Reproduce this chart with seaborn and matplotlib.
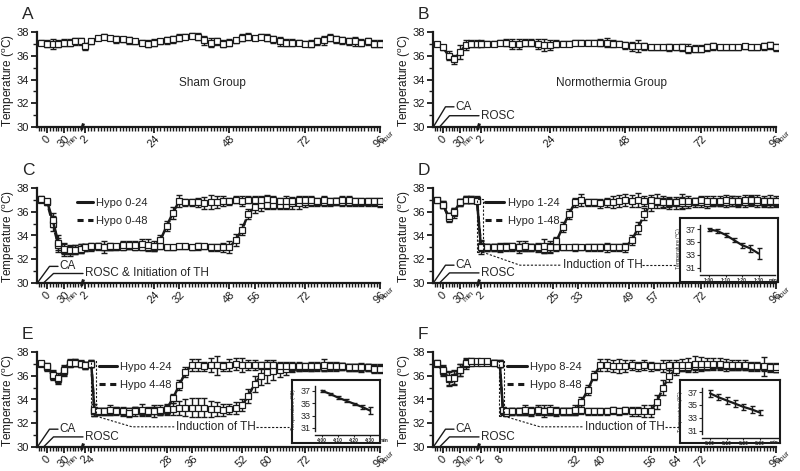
import numpy as np
import pandas as pd
import matplotlib
matplotlib.use("Agg")
import matplotlib.pyplot as plt
import seaborn as sns
from matplotlib.lines import Line2D
from matplotlib.ticker import FixedLocator

sns.set_theme(style="ticks")
plt.rcParams['font.family'] = ['Liberation Sans', 'DejaVu Sans']
plt.rcParams['mathtext.fontset'] = 'custom'
plt.rcParams['mathtext.rm'] = 'Liberation Sans'

# ---------------- data ----------------
EARLY_MIN = [-10, 0, 10, 20, 30, 40, 50, 60]
HOURS = list(range(2, 97, 2))
HOURS_E = [2, 4, 5] + list(range(6, 97, 2))
HOURS_F = [2, 4, 6, 8, 9] + list(range(10, 97, 2))

A_MEAN = [37.1, 37.0, 37.0, 37.0, 37.1, 37.1, 37.2, 37.2,
          36.8, 37.2, 37.5, 37.6, 37.5, 37.4, 37.4, 37.3, 37.2, 37.1, 37.0, 37.1,
          37.2, 37.3, 37.4, 37.5, 37.6, 37.7, 37.6, 37.3, 37.1, 37.2, 37.0, 37.1,
          37.3, 37.5, 37.6, 37.5, 37.6, 37.5, 37.4, 37.2, 37.1, 37.1, 37.1, 37.0,
          37.0, 37.2, 37.3, 37.5, 37.4, 37.3, 37.2, 37.2, 37.1, 37.2, 37.0, 37.0]
A_SEM = [0.2, 0.3, 0.4, 0.3, 0.3, 0.3, 0.3, 0.3,
         0.3, 0.2, 0.2, 0.2, 0.2, 0.3, 0.2, 0.3, 0.2, 0.2, 0.3, 0.3,
         0.2, 0.3, 0.3, 0.3, 0.2, 0.2, 0.3, 0.4, 0.4, 0.3, 0.3, 0.3,
         0.2, 0.3, 0.3, 0.2, 0.2, 0.3, 0.3, 0.4, 0.3, 0.3, 0.2, 0.2,
         0.3, 0.3, 0.4, 0.3, 0.3, 0.3, 0.3, 0.4, 0.3, 0.3, 0.3, 0.3]

B_MEAN = [37.0, 36.7, 36.0, 35.7, 36.3, 36.9, 37.0, 37.0,
          37.0, 37.0, 37.0, 37.1, 37.1, 37.0, 37.0, 37.1, 37.1, 37.0, 36.9, 36.9,
          37.0, 37.0, 37.0, 37.1, 37.1, 37.1, 37.1, 37.1, 37.1, 37.0, 37.0, 36.9,
          36.8, 36.8, 36.8, 36.7, 36.7, 36.7, 36.7, 36.7, 36.7, 36.6, 36.6, 36.6,
          36.7, 36.8, 36.7, 36.7, 36.7, 36.7, 36.8, 36.7, 36.7, 36.8, 36.9, 36.7]
B_SEM = [0.1, 0.2, 0.4, 0.4, 0.6, 0.4, 0.3, 0.3,
         0.3, 0.2, 0.2, 0.2, 0.3, 0.4, 0.4, 0.3, 0.3, 0.4, 0.5, 0.4,
         0.3, 0.2, 0.2, 0.2, 0.2, 0.2, 0.2, 0.3, 0.4, 0.3, 0.2, 0.3,
         0.4, 0.5, 0.3, 0.2, 0.2, 0.2, 0.3, 0.2, 0.3, 0.4, 0.3, 0.3,
         0.3, 0.3, 0.2, 0.2, 0.2, 0.2, 0.2, 0.2, 0.2, 0.3, 0.3, 0.3]

C24_MEAN = [37.1, 36.9, 35.3, 33.4, 32.9, 32.8, 32.8, 32.9,
            33.0, 33.1, 33.1, 33.0, 33.1, 33.1, 33.2, 33.2, 33.2, 33.3, 33.2, 33.1,
            33.6, 34.8, 35.9, 36.9, 36.8, 36.8, 36.8, 36.7, 36.8, 36.8, 36.9, 36.9,
            37.0, 36.9, 37.0, 37.0, 37.0, 37.1, 37.0, 36.9, 36.9, 36.9, 37.0, 37.0,
            37.0, 36.9, 37.0, 36.9, 36.9, 37.0, 37.0, 36.9, 36.9, 36.9, 36.9, 36.9]
C24_SEM = [0.2, 0.2, 0.6, 0.6, 0.5, 0.4, 0.4, 0.4,
           0.3, 0.3, 0.3, 0.5, 0.3, 0.2, 0.3, 0.3, 0.3, 0.4, 0.5, 0.4,
           0.4, 0.4, 0.5, 0.5, 0.3, 0.3, 0.4, 0.5, 0.6, 0.5, 0.4, 0.3,
           0.3, 0.4, 0.3, 0.3, 0.3, 0.3, 0.3, 0.3, 0.4, 0.3, 0.3, 0.3,
           0.3, 0.3, 0.3, 0.3, 0.3, 0.3, 0.3, 0.3, 0.3, 0.3, 0.3, 0.3]
C48_MEAN = [37.0, 36.8, 35.0, 33.2, 32.8, 32.7, 32.8, 32.9,
            33.0, 33.0, 33.1, 33.0, 33.0, 33.0, 33.0, 33.1, 33.0, 33.0, 33.0, 33.0,
            33.1, 33.0, 33.0, 33.1, 33.1, 33.0, 33.1, 33.1, 33.0, 33.0, 33.0, 33.0,
            33.6, 34.5, 35.8, 36.4, 36.6, 36.6, 36.6, 36.6, 36.6, 36.7, 36.7, 36.8,
            36.8, 36.8, 36.8, 36.8, 36.9, 36.8, 36.8, 36.8, 36.8, 36.8, 36.8, 36.7]
C48_SEM = [0.2, 0.2, 0.6, 0.6, 0.5, 0.4, 0.4, 0.4,
           0.3, 0.3, 0.2, 0.2, 0.2, 0.2, 0.2, 0.2, 0.2, 0.2, 0.2, 0.3,
           0.2, 0.2, 0.2, 0.2, 0.2, 0.2, 0.3, 0.2, 0.3, 0.3, 0.4, 0.5,
           0.5, 0.5, 0.4, 0.5, 0.5, 0.4, 0.4, 0.4, 0.4, 0.5, 0.5, 0.4,
           0.3, 0.3, 0.3, 0.3, 0.3, 0.3, 0.3, 0.3, 0.3, 0.3, 0.3, 0.3]

D24_MEAN = [37.0, 36.6, 35.6, 36.0, 36.8, 37.0, 37.0, 36.9,
            33.0, 33.0, 33.0, 33.0, 33.0, 33.1, 33.0, 33.1, 33.0, 33.0, 33.1, 33.0,
            33.5, 34.7, 35.8, 36.8, 37.0, 36.8, 36.8, 36.7, 36.8, 36.8, 36.9, 37.0,
            36.9, 37.0, 36.9, 37.0, 36.9, 36.8, 36.8, 36.8, 36.9, 36.9, 36.9, 37.0,
            36.9, 36.9, 36.9, 37.0, 36.9, 36.9, 37.0, 37.0, 37.0, 36.9, 36.9, 36.9]
D24_SEM = [0.1, 0.3, 0.3, 0.3, 0.3, 0.3, 0.3, 0.2,
           0.6, 0.3, 0.3, 0.3, 0.3, 0.3, 0.5, 0.4, 0.3, 0.4, 0.6, 0.5,
           0.4, 0.4, 0.4, 0.4, 0.5, 0.3, 0.3, 0.4, 0.4, 0.5, 0.5, 0.5,
           0.5, 0.6, 0.4, 0.4, 0.3, 0.4, 0.4, 0.3, 0.6, 0.4, 0.3, 0.3,
           0.4, 0.4, 0.4, 0.4, 0.4, 0.4, 0.4, 0.4, 0.4, 0.4, 0.5, 0.4]
D48_MEAN = [37.0, 36.6, 35.5, 35.9, 36.8, 37.0, 37.0, 37.0,
            33.1, 33.0, 33.0, 33.0, 33.1, 33.0, 33.0, 33.0, 33.0, 33.0, 32.9, 33.0,
            33.0, 33.0, 33.0, 33.0, 33.0, 33.0, 33.0, 33.0, 33.0, 33.0, 33.0, 33.0,
            33.6, 34.6, 35.8, 36.6, 36.9, 36.8, 36.7, 36.7, 36.7, 36.7, 36.8, 36.8,
            36.7, 36.8, 36.8, 36.8, 36.9, 36.8, 36.8, 36.9, 36.8, 36.8, 36.8, 36.8]
D48_SEM = [0.1, 0.3, 0.4, 0.4, 0.3, 0.3, 0.3, 0.3,
           0.4, 0.3, 0.3, 0.4, 0.3, 0.3, 0.3, 0.3, 0.3, 0.3, 0.4, 0.4,
           0.3, 0.2, 0.2, 0.3, 0.2, 0.3, 0.3, 0.3, 0.4, 0.3, 0.3, 0.4,
           0.4, 0.5, 0.5, 0.5, 0.6, 0.5, 0.5, 0.5, 0.5, 0.4, 0.4, 0.4,
           0.4, 0.3, 0.3, 0.4, 0.4, 0.4, 0.4, 0.4, 0.4, 0.4, 0.4, 0.4]

E24_MEAN = [37.1, 36.8, 36.1, 35.8, 36.5, 37.1, 37.1, 37.0,
            36.9, 37.0, 33.1, 33.0, 33.0, 33.1, 33.0, 33.0, 32.9, 33.0, 33.1, 33.0, 33.0,
            33.1, 33.2, 34.1, 35.2, 36.3, 36.9, 36.9, 36.8, 36.9, 36.9, 36.8, 36.9,
            37.0, 36.9, 36.9, 36.9, 36.9, 36.9, 36.9, 36.8, 36.8, 36.8, 36.8, 36.8,
            36.8, 36.8, 36.9, 36.8, 36.8, 36.8, 36.7, 36.7, 36.7, 36.7, 36.6, 36.6]
E24_SEM = [0.1, 0.3, 0.4, 0.4, 0.4, 0.3, 0.3, 0.2,
           0.3, 0.3, 0.5, 0.3, 0.3, 0.4, 0.3, 0.4, 0.4, 0.4, 0.5, 0.4, 0.5,
           0.4, 0.4, 0.4, 0.4, 0.4, 0.5, 0.5, 0.4, 0.6, 0.8, 0.4, 0.5,
           0.5, 0.6, 0.4, 0.4, 0.3, 0.4, 0.4, 0.4, 0.4, 0.4, 0.4, 0.3,
           0.4, 0.4, 0.5, 0.4, 0.4, 0.3, 0.3, 0.3, 0.4, 0.3, 0.4, 0.4]
E48_MEAN = [37.0, 36.7, 36.0, 35.7, 36.4, 37.0, 37.1, 37.0,
            36.9, 37.0, 33.0, 33.0, 33.0, 33.0, 33.1, 33.0, 33.0, 33.1, 33.0, 33.0, 33.1,
            33.0, 33.1, 33.2, 33.3, 33.3, 33.3, 33.3, 33.3, 33.2, 33.2, 33.1, 33.2,
            33.3, 33.5, 34.3, 35.3, 36.0, 36.3, 36.4, 36.5, 36.6, 36.7, 36.7, 36.7,
            36.7, 36.8, 36.7, 36.8, 36.8, 36.8, 36.7, 36.7, 36.7, 36.7, 36.6, 36.6]
E48_SEM = [0.1, 0.3, 0.4, 0.4, 0.4, 0.3, 0.3, 0.3,
           0.3, 0.3, 0.4, 0.3, 0.3, 0.3, 0.3, 0.3, 0.3, 0.3, 0.3, 0.3, 0.3,
           0.3, 0.4, 0.5, 0.6, 0.7, 0.8, 0.8, 0.8, 0.7, 0.6, 0.5, 0.4,
           0.5, 0.5, 0.6, 0.7, 0.8, 0.9, 0.8, 0.6, 0.5, 0.4, 0.3, 0.3,
           0.3, 0.3, 0.3, 0.3, 0.3, 0.3, 0.3, 0.3, 0.3, 0.3, 0.3, 0.3]

F24_MEAN = [37.1, 36.5, 35.8, 35.8, 36.5, 37.1, 37.2, 37.2,
            37.2, 37.2, 37.1, 37.0, 33.1, 33.0, 33.0, 33.0, 33.1, 33.0, 33.1, 33.0, 33.1,
            33.0, 33.0, 33.0, 33.1, 33.8, 34.8, 36.0, 36.9, 36.9, 36.8, 36.8, 36.8,
            36.9, 36.8, 36.9, 36.8, 36.8, 36.8, 36.9, 36.9, 36.9, 36.9, 37.0, 37.0,
            37.0, 37.0, 37.0, 36.9, 36.9, 36.9, 36.9, 36.8, 36.8, 36.8, 36.7, 36.7]
F24_SEM = [0.2, 0.4, 0.6, 0.6, 0.5, 0.4, 0.3, 0.2,
           0.2, 0.2, 0.2, 0.3, 0.3, 0.3, 0.3, 0.3, 0.4, 0.4, 0.4, 0.5, 0.4,
           0.4, 0.3, 0.3, 0.4, 0.4, 0.4, 0.4, 0.5, 0.5, 0.5, 0.6, 0.5,
           0.4, 0.4, 0.4, 0.4, 0.3, 0.5, 0.4, 0.4, 0.5, 0.6, 0.7, 0.6,
           0.5, 0.5, 0.5, 0.5, 0.4, 0.4, 0.4, 0.4, 0.4, 0.8, 0.4, 0.4]
F48_MEAN = [37.0, 36.4, 35.7, 35.9, 36.5, 37.0, 37.1, 37.1,
            37.1, 37.1, 37.1, 37.0, 33.0, 32.9, 33.0, 33.0, 33.0, 33.0, 33.1, 33.0, 33.0,
            33.0, 33.0, 33.0, 33.0, 33.1, 33.0, 33.0, 33.0, 33.0, 33.1, 33.0, 33.1,
            33.0, 33.0, 33.0, 33.0, 33.8, 35.0, 36.0, 36.5, 36.7, 36.7, 36.8, 36.8,
            36.8, 36.9, 36.9, 36.9, 36.8, 36.8, 36.8, 36.8, 36.8, 36.7, 36.7, 36.6]
F48_SEM = [0.2, 0.4, 0.6, 0.6, 0.5, 0.4, 0.3, 0.2,
           0.2, 0.2, 0.2, 0.3, 0.3, 0.3, 0.3, 0.3, 0.3, 0.3, 0.3, 0.3, 0.3,
           0.3, 0.3, 0.3, 0.3, 0.3, 0.3, 0.3, 0.3, 0.3, 0.3, 0.3, 0.3,
           0.4, 0.4, 0.5, 0.5, 0.6, 0.6, 0.5, 0.4, 0.3, 0.3, 0.3, 0.3,
           0.3, 0.3, 0.3, 0.3, 0.3, 0.3, 0.3, 0.3, 0.3, 0.3, 0.3, 0.3]

# insets (minutes after ROSC)
D_IN_MIN = [60, 65, 70, 75, 80, 85, 90]
D_IN_MEAN = [36.95, 36.7, 36.1, 35.3, 34.5, 34.0, 33.2]
D_IN_SEM = [0.2, 0.3, 0.3, 0.3, 0.4, 0.5, 0.8]
E_IN_MIN = [240, 245, 250, 255, 260, 265, 270]
E_IN_MEAN = [37.0, 36.5, 35.9, 35.4, 34.9, 34.4, 33.8]
E_IN_SEM = [0.2, 0.2, 0.2, 0.2, 0.2, 0.3, 0.6]
F_IN_MIN = [480, 485, 490, 495, 500, 505, 510]
F_IN_MEAN = [36.8, 36.2, 35.7, 35.2, 34.7, 34.3, 33.8]
F_IN_SEM = [0.5, 0.5, 0.5, 0.5, 0.5, 0.5, 0.4]

TICKS_AB = [0, 0.5, 2, 24, 48, 72, 96]
TICKS_C = [0, 0.5, 2, 24, 32, 48, 56, 72, 96]
TICKS_D = [0, 0.5, 2, 25, 33, 49, 57, 72, 96]
TICKS_E = [0, 0.5, 2, 4, 28, 36, 52, 60, 72, 96]
TICKS_F = [0, 0.5, 2, 8, 32, 40, 56, 64, 72, 96]

# ---------------- broken time scale ----------------
T_KNOTS = [-1.0, 0.0, 1.0, 2.0, 100.0]
P_KNOTS = [-24.0, 10.0, 44.0, 48.0, 355.72]


def fwd(t):
    return np.interp(np.asarray(t, dtype=float), T_KNOTS, P_KNOTS)


def inv(p):
    return np.interp(np.asarray(p, dtype=float), P_KNOTS, T_KNOTS)


def tick_label(v):
    if v == 0.5:
        return '30'
    return str(int(v))


def times_for(hours):
    return [m / 60.0 for m in EARLY_MIN] + list(hours)


SOLID = '-'
DASHED = (0, (3, 2))

fig = plt.figure(figsize=(8, 4.71), dpi=100)
fig.patch.set_facecolor('white')

LEFTS = [37 / 800, 433 / 800]
WIDTH = 345 / 800
BOTTOMS = [1 - 127 / 471, 1 - 283 / 471, 1 - 447 / 471]
HEIGHT = 95 * 8.4 / 8 / 471


def draw_series(ax, times, mean, sem, ls):
    ax.errorbar(times, mean, yerr=sem, fmt='none', ecolor='k', elinewidth=1.0,
                capsize=2.2, capthick=1.0, zorder=2)
    df = pd.DataFrame({'t': times, 'temp': mean})
    sns.lineplot(data=df, x='t', y='temp', ax=ax, color='k', lw=1.8, linestyle=ls,
                 marker='s', markersize=4.0, markerfacecolor='white',
                 markeredgecolor='k', markeredgewidth=0.9, errorbar=None, zorder=3)


def setup_axes(ax, ticks, letter, col):
    ax.set_xscale('function', functions=(fwd, inv))
    ax.set_xlim(inv(0), inv(345))
    ax.set_ylim(30, 38.4)
    ax.set_yticks([30, 32, 34, 36, 38])
    ax.yaxis.set_minor_locator(FixedLocator([31, 33, 35, 37]))
    ax.set_xticks(ticks)
    ax.set_xticklabels([tick_label(v) for v in ticks], rotation=45, ha='center')
    minor = [m / 60.0 for m in range(-15, 61, 5)] + list(range(2, 97))
    ax.xaxis.set_minor_locator(FixedLocator(minor))
    for s in ['top', 'right']:
        ax.spines[s].set_visible(False)
    ax.spines['left'].set_bounds(30, 38)
    ax.spines['bottom'].set_bounds(inv(0), 96)
    for s in ['left', 'bottom']:
        ax.spines[s].set_linewidth(1.6)
        ax.spines[s].set_color('k')
    ax.tick_params(axis='y', which='major', length=4, width=1.3, labelsize=8,
                   color='k', labelcolor='k', pad=1.5)
    ax.tick_params(axis='x', which='major', length=4, width=1.3, labelsize=8,
                   color='k', labelcolor='k', pad=1)
    ax.tick_params(axis='both', which='minor', length=3, width=1.0, color='k')
    ax.set_xlabel('')
    ax.set_ylabel('Temperature ($^{\\rm o}$C)', fontsize=8.5, color='k')
    ax.yaxis.set_label_coords(-0.058, 0.47)
    ax.set_facecolor('none')
    ax.annotate('min', xy=(inv(36), 30), xytext=(0, -5), textcoords='offset points',
                rotation=45, ha='center', va='top', fontsize=5.5, annotation_clip=False)
    ax.annotate('hour', xy=(inv(351), 30), xytext=(0, -2), textcoords='offset points',
                rotation=45, ha='center', va='top', fontsize=5.5, annotation_clip=False)
    ax.plot([inv(44.5), inv(46.5)], [29.75, 30.3], color='k', lw=2.2, clip_on=False,
            solid_capstyle='butt')
    fig.text(LEFTS[col] - 15 / 800, ax.get_position().y1 + 5 / 471, letter,
             fontsize=12.5, ha='left', va='bottom')


def ca_rosc(ax, rosc_label, y_ca=31.5, y_rosc=30.85):
    ax.plot([inv(0.3), inv(12.5), inv(21)], [30, y_ca, y_ca], color='k', lw=1, clip_on=False)
    ax.text(inv(22.5), y_ca, 'CA', va='center', ha='left', fontsize=8.5)
    ax.plot([inv(6.5), inv(16.5), inv(46)], [30, y_rosc, y_rosc], color='k', lw=1,
            clip_on=False)
    ax.text(inv(48), y_rosc, rosc_label, va='center', ha='left', fontsize=8.5)


def legend(ax, labels, x, hl):
    handles = [Line2D([], [], color='k', lw=2.2, ls='-'),
               Line2D([], [], color='k', lw=2.2, ls=(0, (2, 1.5)))]
    ax.legend(handles, labels, loc='center left', bbox_to_anchor=(x, 0.712),
              frameon=False, fontsize=8, handlelength=hl, handletextpad=0.3,
              labelspacing=0.65, borderpad=0, borderaxespad=0)


def induction(ax, box, corner, text_x, tail):
    x0, x1, y0, y1 = box
    ax.plot([inv(x0), inv(x1), inv(x1), inv(x0), inv(x0)], [y0, y0, y1, y1, y0],
            color='k', lw=0.8, ls=(0, (2, 1.5)), zorder=4)
    ax.plot([inv(x1), inv(corner[0]), inv(text_x - 1.5)], [y0, corner[1], corner[1]],
            color='k', lw=0.8, ls=(0, (2, 1.5)), zorder=4)
    ax.text(inv(text_x), corner[1], 'Induction of TH', va='center', ha='left', fontsize=8.5)
    ax.plot([inv(tail[0]), inv(tail[1])], [corner[1], corner[1]], color='k', lw=0.8,
            ls=(0, (2, 1.5)), zorder=4)


def inset(box_rect, inner_rect, minutes, mean, sem, xlim, ticks, labels):
    box = fig.add_axes(box_rect)
    box.set_xticks([])
    box.set_yticks([])
    box.set_facecolor('white')
    for s in box.spines.values():
        s.set_linewidth(1.5)
        s.set_color('k')
    iax = fig.add_axes(inner_rect)
    iax.set_facecolor('none')
    iax.errorbar(minutes, mean, yerr=sem, fmt='none', ecolor='k', elinewidth=1.0,
                 capsize=1.8, capthick=1.0)
    df = pd.DataFrame({'t': minutes, 'temp': mean})
    sns.lineplot(data=df, x='t', y='temp', ax=iax, color='k', lw=1.6, errorbar=None)
    iax.set_xlim(*xlim)
    iax.set_ylim(29.85, 38.1)
    iax.set_yticks([31, 33, 35, 37])
    iax.set_xticks(ticks)
    iax.set_xticklabels(labels, fontsize=3.5, fontweight='bold')
    iax.tick_params(axis='y', labelsize=6.5, length=2, width=0.8, pad=1)
    iax.tick_params(axis='x', length=1.5, width=0.8, pad=1)
    for s in ['top', 'right']:
        iax.spines[s].set_visible(False)
    for s in ['left', 'bottom']:
        iax.spines[s].set_linewidth(1.0)
        iax.spines[s].set_color('k')
    iax.spines['left'].set_bounds(30.5, 37.7)
    iax.set_xlabel('')
    iax.set_ylabel('Temperature ($^{\\rm o}$C)', fontsize=3.8, labelpad=1)
    iax.annotate('min', xy=(ticks[-1], 29.85), xytext=(7, -1.8), textcoords='offset points',
                 fontsize=3.5, fontweight='bold', va='top', ha='left', annotation_clip=False)


# ---------------- panels ----------------
# A
axA = fig.add_axes([LEFTS[0], BOTTOMS[0], WIDTH, HEIGHT])
draw_series(axA, times_for(HOURS), A_MEAN, A_SEM, SOLID)
setup_axes(axA, TICKS_AB, 'A', 0)
axA.text(inv(175), 33.7, 'Sham Group', ha='center', va='center', fontsize=8.5)

# B
axB = fig.add_axes([LEFTS[1], BOTTOMS[0], WIDTH, HEIGHT])
draw_series(axB, times_for(HOURS), B_MEAN, B_SEM, SOLID)
setup_axes(axB, TICKS_AB, 'B', 1)
axB.text(inv(179), 33.7, 'Normothermia Group', ha='center', va='center', fontsize=8.5)
ca_rosc(axB, 'ROSC', 31.7, 30.95)

# C
axC = fig.add_axes([LEFTS[0], BOTTOMS[1], WIDTH, HEIGHT])
draw_series(axC, times_for(HOURS), C48_MEAN, C48_SEM, DASHED)
draw_series(axC, times_for(HOURS), C24_MEAN, C24_SEM, SOLID)
setup_axes(axC, TICKS_C, 'C', 0)
ca_rosc(axC, 'ROSC & Initiation of TH', 31.4, 30.8)
legend(axC, ['Hypo 0-24', 'Hypo 0-48'], 40 / 345, 1.45)

# D
axD = fig.add_axes([LEFTS[1], BOTTOMS[1], WIDTH, HEIGHT])
draw_series(axD, times_for(HOURS), D48_MEAN, D48_SEM, DASHED)
draw_series(axD, times_for(HOURS), D24_MEAN, D24_SEM, SOLID)
setup_axes(axD, TICKS_D, 'D', 1)
ca_rosc(axD, 'ROSC')
legend(axD, ['Hypo 1-24', 'Hypo 1-48'], 52 / 345, 1.75)
induction(axD, (44, 49.5, 32.6, 37.1), (87, 31.5), 130, (209, 244))

# E
axE = fig.add_axes([LEFTS[0], BOTTOMS[2], WIDTH, HEIGHT])
draw_series(axE, times_for(HOURS_E), E48_MEAN, E48_SEM, DASHED)
draw_series(axE, times_for(HOURS_E), E24_MEAN, E24_SEM, SOLID)
setup_axes(axE, TICKS_E, 'E', 0)
ca_rosc(axE, 'ROSC')
legend(axE, ['Hypo 4-24', 'Hypo 4-48'], 62 / 345, 1.6)
induction(axE, (53.5, 59, 32.6, 37.2), (95, 31.7), 138.7, (219, 252))

# F
axF = fig.add_axes([LEFTS[1], BOTTOMS[2], WIDTH, HEIGHT])
draw_series(axF, times_for(HOURS_F), F48_MEAN, F48_SEM, DASHED)
draw_series(axF, times_for(HOURS_F), F24_MEAN, F24_SEM, SOLID)
setup_axes(axF, TICKS_F, 'F', 1)
ca_rosc(axF, 'ROSC')
legend(axF, ['Hypo 8-24', 'Hypo 8-48'], 74 / 345, 1.8)
induction(axF, (66, 71, 32.6, 37.3), (107, 31.7), 152, (232, 246))

# insets
inset([680 / 800, 1 - 282 / 471, 98 / 800, 64 / 471],
      [700 / 800, 1 - 275 / 471, 75 / 800, 53 / 471],
      D_IN_MIN, D_IN_MEAN, D_IN_SEM, (54.5, 100), [60, 70, 80, 90],
      ['1:00', '1:10', '1:20', '1:30'])
inset([292 / 800, 1 - 443 / 471, 88 / 800, 63 / 471],
      [315 / 800, 1 - 435 / 471, 63 / 800, 51 / 471],
      E_IN_MIN, E_IN_MEAN, E_IN_SEM, (235.6, 275), [240, 250, 260, 270],
      ['4:00', '4:10', '4:20', '4:30'])
inset([680 / 800, 1 - 443 / 471, 100 / 800, 63 / 471],
      [702 / 800, 1 - 438 / 471, 76 / 800, 53 / 471],
      F_IN_MIN, F_IN_MEAN, F_IN_SEM, (475.2, 520.8), [480, 490, 500, 510],
      ['8:00', '8:10', '8:20', '8:30'])

fig.savefig('out.png', dpi=100, facecolor='white')
